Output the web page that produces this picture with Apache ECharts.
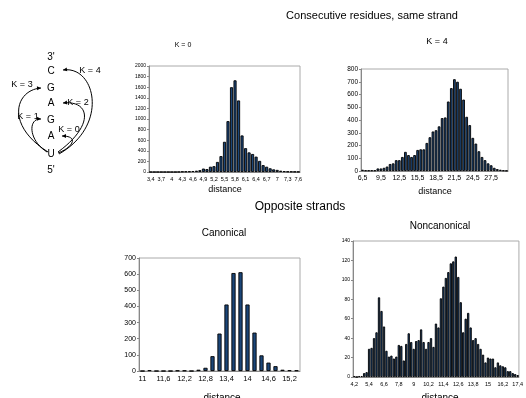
<!DOCTYPE html>
<html>
<head>
<meta charset="utf-8">
<script src="https://cdn.jsdelivr.net/npm/echarts@6/dist/echarts.min.js"></script>
<style>
html,body{margin:0;padding:0;background:#fff;}
#main{width:526px;height:398px;}
</style>
</head>
<body>
<div id="main"></div>
<script>
// K = 0, consecutive residues
var k0Cats = ['3,4','3,5','3,6','3,7','3,8','3,9','4','4,1','4,2','4,3','4,4','4,5','4,6','4,7','4,8','4,9',
	'5','5,1','5,2','5,3','5,4','5,5','5,6','5,7','5,8','5,9','6','6,1','6,2','6,3','6,4','6,5','6,6','6,7','6,8','6,9',
	'7','7,1','7,2','7,3','7,4','7,5','7,6'];
var k0Counts = [0,0,0,0,0,0,0,0,2,8,10,12,18,25,35,65,
	55,100,110,190,300,570,960,1600,1730,1350,690,450,370,340,290,210,130,100,70,50,
	40,25,15,10,8,6,5];
// K = 4
var k4Cats = ['6,5','7','7,5','8','8,5','9','9,5','10','10,5','11','11,5','12','12,5','13','13,5','14','14,5','15',
	'15,5','16','16,5','17','17,5','18','18,5','19','19,5','20','20,5','21','21,5','22','22,5','23','23,5','24',
	'24,5','25','25,5','26','26,5','27','27,5','28','28,5','29','29,5','30'];
var k4Counts = [10,5,5,5,5,20,20,25,35,55,60,85,85,110,150,125,110,125,
	165,170,170,220,265,310,320,350,415,420,545,650,720,700,645,560,425,360,
	260,215,155,110,85,60,45,25,15,10,5,3];
// opposite strands, canonical
var canCats = ['11','11,2','11,4','11,6','11,8','12','12,2','12,4','12,6','12,8','13','13,2','13,4','13,6','13,8',
	'14','14,2','14,4','14,6','14,8','15','15,2','15,4'];
var canCounts = [0,5,0,0,0,3,3,0,8,20,92,232,412,607,612,412,238,97,52,30,8,5,4];
// opposite strands, noncanonical
var ncCats = ['4,2','4,4','4,6','4,8','5','5,2','5,4','5,6','5,8','6','6,2','6,4','6,6','6,8','7','7,2','7,4','7,6',
	'7,8','8','8,2','8,4','8,6','8,8','9','9,2','9,4','9,6','9,8','10','10,2','10,4','10,6','10,8','11','11,2',
	'11,4','11,6','11,8','12','12,2','12,4','12,6','12,8','13','13,2','13,4','13,6','13,8','14','14,2','14,4','14,6','14,8',
	'15','15,2','15,4','15,6','15,8','16','16,2','16,4','16,6','16,8','17','17,2','17,4'];
var ncCounts = [1,0,1,1,4,5,29,30,40,46,82,68,52,27,21,22,19,21,
	33,32,17,34,45,36,29,37,38,49,36,29,36,40,31,55,51,81,
	93,102,108,117,119,124,103,77,46,60,66,51,38,40,34,29,23,15,
	20,19,19,10,15,12,11,10,6,6,4,3,2];

var font = 'Liberation Sans';
var myChart = echarts.init(document.getElementById('main'), null, {renderer:'canvas'});

function xAx(g, cats, every, fs)
{
	return {
		type:'category', gridIndex:g, data:cats,
		axisLine:{lineStyle:{color:'#888', width:1}},
		axisTick:{show:false},
		axisLabel:{interval:every-1, fontSize:fs, color:'#000', margin:4, fontFamily:font}
	};
}
function yAx(g, max, step, fs)
{
	return {
		type:'value', gridIndex:g, min:0, max:max, interval:step,
		splitLine:{show:false},
		axisLine:{show:true, lineStyle:{color:'#888'}},
		axisTick:{show:true, length:2, lineStyle:{color:'#888'}},
		axisLabel:{fontSize:fs, color:'#000', margin:3, fontFamily:font,
			formatter:function(v){return String(v);}}
	};
}
function bars(g, vals, gap)
{
	return {
		type:'bar', xAxisIndex:g, yAxisIndex:g, data:vals,
		barCategoryGap:gap,
		itemStyle:{color:'#1b4679', borderColor:'#000', borderWidth:0.9},
		animation:false
	};
}

// arrows of the base-pair diagram
var arrows = [
	[58,153, 72,148, 80,136, 62,136],
	[47,152, 28,140, 28,118, 41,119],
	[48,152, 5,125, 15,90, 41,88],
	[58,152, 95,125, 90,100, 63,103],
	[59,154, 110,125, 95,65, 63,70]
];
var graphics = [];
arrows.forEach(function(a)
{
	graphics.push({type:'bezierCurve', shape:{x1:a[0],y1:a[1],cpx1:a[2],cpy1:a[3],cpx2:a[4],cpy2:a[5],x2:a[6],y2:a[7]},
		style:{stroke:'#000', lineWidth:1, fill:null}});
	var ang = Math.atan2(a[7]-a[5], a[6]-a[4]);
	var L = 4, W = 2;
	var bx = a[6]-L*Math.cos(ang), by = a[7]-L*Math.sin(ang);
	graphics.push({type:'polygon', shape:{points:[[a[6],a[7]],
		[bx+W*Math.sin(ang), by-W*Math.cos(ang)],[bx-W*Math.sin(ang), by+W*Math.cos(ang)]]},
		style:{fill:'#000'}});
});
var labels = [
	['3\'',51,57,10],['C',51,71,10],['G',51,88,10],['A',51,103,10],['G',51,120,10],['A',51,136,10],['U',51,154,10],['5\'',51,170,10],
	['K = 4',90,71,9],['K = 3',22,85,9],['K = 2',78,103,9],['K = 1',28,117,9],['K = 0',69,130,9],
	['Consecutive residues, same strand',372,16,11],['K = 0',183,45,7],['K = 4',437,42,9],
	['Opposite strands',300,207,12],['Canonical',224,233,10],['Noncanonical',440,226,10],
	['distance',225,190,9],['distance',435,192,9],['distance',222,398,10],['distance',440,398,10]
];
labels.forEach(function(t)
{
	graphics.push({type:'text', x:t[1], y:t[2], style:{text:t[0], fontSize:t[3], fontFamily:font, fill:'#000',
		align:'center', verticalAlign:'middle'}});
});

var option = {
	backgroundColor:'#fff',
	animation:false,
	grid:[
		{left:149, top:66, width:151, height:106, show:true, borderColor:'#aaa', borderWidth:1},
		{left:361, top:69, width:147, height:102, show:true, borderColor:'#aaa', borderWidth:1},
		{left:139, top:258, width:161, height:113, show:true, borderColor:'#aaa', borderWidth:1},
		{left:353, top:241, width:172, height:136, show:true, borderColor:'#aaa', borderWidth:1}
	],
	xAxis:[xAx(0, k0Cats, 3, 5.5), xAx(1, k4Cats, 6, 7), xAx(2, canCats, 3, 7.5), xAx(3, ncCats, 6, 5.5)],
	yAxis:[yAx(0, 2000, 200, 5), yAx(1, 800, 100, 6.5), yAx(2, 700, 100, 7), yAx(3, 140, 20, 5)],
	series:[bars(0, k0Counts, '12%'), bars(1, k4Counts, '12%'), bars(2, canCounts, '40%'), bars(3, ncCounts, '8%')],
	graphic:graphics
};
myChart.setOption(option);
</script>
</body>
</html>
